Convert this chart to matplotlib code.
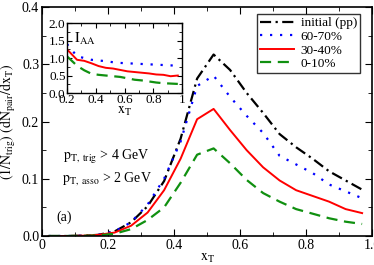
import matplotlib
matplotlib.use("Agg")
import matplotlib.pyplot as plt
from matplotlib.ticker import MultipleLocator

plt.rcParams['font.family'] = ['Liberation Serif', 'DejaVu Serif']
plt.rcParams['mathtext.fontset'] = 'stix'

# main panel: (1/N_trig)(dN_pair/dx_T) vs x_T
xT = [0.02, 0.07, 0.12, 0.17, 0.22, 0.27, 0.32, 0.37, 0.42, 0.47,
      0.52, 0.57, 0.62, 0.67, 0.72, 0.77, 0.82, 0.87, 0.92, 0.97]
pp = [0.0, 0.0, 0.0005, 0.002, 0.008, 0.024, 0.052, 0.096, 0.17, 0.275,
      0.317, 0.29, 0.25, 0.215, 0.178, 0.155, 0.135, 0.113, 0.097, 0.081]
c60 = [0.0, 0.0, 0.0005, 0.002, 0.008, 0.024, 0.055, 0.10, 0.165, 0.262,
       0.28, 0.243, 0.21, 0.18, 0.14, 0.125, 0.11, 0.09, 0.078, 0.066]
c30 = [0.0, 0.0, 0.0005, 0.002, 0.006, 0.018, 0.041, 0.08, 0.135, 0.204,
       0.222, 0.185, 0.15, 0.12, 0.097, 0.08, 0.07, 0.06, 0.047, 0.04]
c0 = [0.0, 0.0, 0.0003, 0.001, 0.004, 0.012, 0.028, 0.05, 0.093, 0.142,
      0.153, 0.127, 0.098, 0.075, 0.06, 0.047, 0.039, 0.031, 0.025, 0.021]

# inset: I_AA
xi = [0.2, 0.27, 0.32, 0.37, 0.42, 0.47, 0.52, 0.57, 0.62, 0.67,
      0.72, 0.77, 0.82, 0.87, 0.92, 0.97]
i60 = [1.4, 1.05, 1.0, 0.95, 0.93, 0.91, 0.88, 0.86, 0.85, 0.84,
       0.83, 0.82, 0.81, 0.8, 0.79, 0.78]
i30 = [1.25, 0.95, 0.92, 0.85, 0.77, 0.72, 0.7, 0.66, 0.62, 0.6,
       0.58, 0.56, 0.53, 0.52, 0.48, 0.5]
i0 = [1.05, 0.78, 0.65, 0.55, 0.52, 0.5, 0.48, 0.46, 0.42, 0.38,
      0.36, 0.33, 0.3, 0.28, 0.27, 0.26]

labels = ['initial (pp)', '60-70%', '30-40%', '0-10%']

fig = plt.figure(figsize=(3.74, 2.65), dpi=100)
ax = fig.add_axes([0.1123, 0.1094, 0.8824, 0.8642])

ax.plot(xT, pp, color='black', lw=1.6, dashes=[5, 2, 1, 2], label=labels[0])
ax.plot(xT, c60, color='blue', lw=1.6, dashes=[1, 3.5], label=labels[1])
ax.plot(xT, c30, color='red', lw=1.4, label=labels[2])
ax.plot(xT, c0, color='#109010', lw=1.6, dashes=[5, 3], label=labels[3])

ax.set_xlim(0, 1)
ax.set_ylim(0, 0.4)
ax.xaxis.set_major_locator(MultipleLocator(0.2))
ax.xaxis.set_minor_locator(MultipleLocator(0.1))
ax.yaxis.set_major_locator(MultipleLocator(0.1))
ax.yaxis.set_minor_locator(MultipleLocator(0.05))
ax.xaxis.set_major_formatter(plt.FuncFormatter(lambda v, p: '0' if v == 0 else ('1' if v == 1 else f'{v:.1f}')))
ax.yaxis.set_major_formatter(plt.FuncFormatter(lambda v, p: f'{v:.1f}'))
ax.tick_params(which='both', direction='in', top=True, right=True, labelsize=10, pad=2)
ax.tick_params(which='major', length=5)
ax.tick_params(which='minor', length=3)
for s in ax.spines.values():
    s.set_linewidth(1.2)
ax.set_xlabel(r'$\mathrm{x_T}$', fontsize=10, labelpad=0)
ax.set_ylabel(r'$\mathrm{(1/N_{trig})\ (dN_{pair}/dx_T)}$', fontsize=10, labelpad=3)

leg = ax.legend(loc='upper right', bbox_to_anchor=(0.965, 0.97), fontsize=9.5,
                frameon=True, fancybox=False, edgecolor='black', handlelength=2.6,
                handletextpad=0.5, labelspacing=0.1, borderpad=0.25, borderaxespad=0)
leg.get_frame().set_linewidth(1.0)

ax.text(0.064, 0.138, r'$\mathrm{p_{T,\ trig}}$ > 4 GeV', fontsize=10, va='center')
ax.text(0.06, 0.100, r'$\mathrm{p_{T,\ asso}}$ > 2 GeV', fontsize=10, va='center')
ax.text(0.045, 0.033, '(a)', fontsize=10, va='center')

ins = fig.add_axes([0.179, 0.649, 0.308, 0.264])
ins.plot(xi, i60, color='blue', lw=1.6, dashes=[1, 3.5])
ins.plot(xi, i30, color='red', lw=1.4)
ins.plot(xi, i0, color='#109010', lw=1.6, dashes=[5, 3])
ins.set_xlim(0.2, 1)
ins.set_ylim(0, 2)
ins.xaxis.set_major_locator(MultipleLocator(0.2))
ins.xaxis.set_minor_locator(MultipleLocator(0.1))
ins.yaxis.set_major_locator(MultipleLocator(0.5))
ins.yaxis.set_minor_locator(MultipleLocator(0.25))
ins.xaxis.set_major_formatter(plt.FuncFormatter(lambda v, p: '1' if abs(v - 1) < 1e-9 else f'{v:.1f}'))
ins.yaxis.set_major_formatter(plt.FuncFormatter(lambda v, p: f'{v:.1f}'))
ins.tick_params(which='both', direction='in', top=True, right=True, labelsize=9.5, pad=1)
ins.tick_params(which='major', length=3.5)
ins.tick_params(which='minor', length=2)
for s in ins.spines.values():
    s.set_linewidth(1.0)
ins.set_xlabel(r'$\mathrm{x_T}$', fontsize=10, labelpad=-1)
ins.text(0.25, 1.55, r'$\mathrm{I_{AA}}$', fontsize=10.5, va='center')

fig.savefig('out.png', dpi=100)
